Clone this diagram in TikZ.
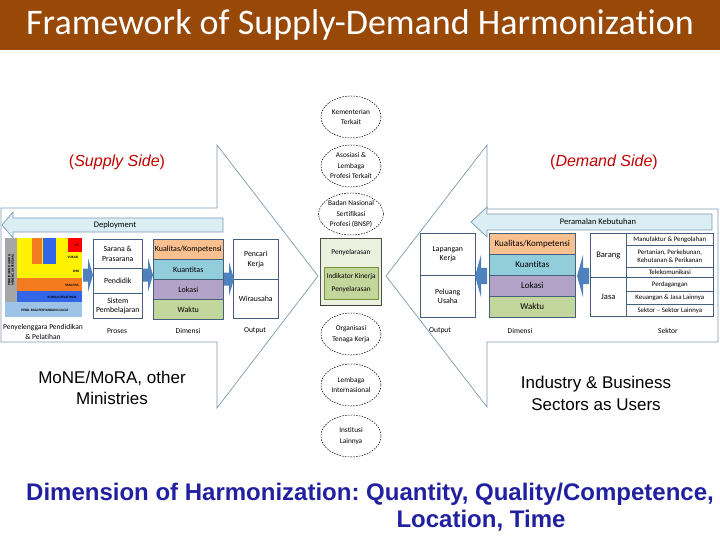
\documentclass[tikz,border=0pt]{standalone}
\usepackage{fontspec}
\setmainfont{Carlito}[Ligatures={NoCommon,NoRare}]
\newfontfamily\arialfont{Liberation Sans}
\usetikzlibrary{shapes.geometric}
\frenchspacing

\definecolor{titlebrown}{HTML}{984807}
\definecolor{frameline}{HTML}{7F98B2}
\definecolor{cellline}{HTML}{44607F}
\definecolor{barblue}{HTML}{DAEEF3}
\definecolor{kualitas}{HTML}{FAC090}
\definecolor{kuantitas}{HTML}{92CDDC}
\definecolor{lokasi}{HTML}{B3A2C7}
\definecolor{waktu}{HTML}{C3D69B}
\definecolor{blkblue}{HTML}{4F81BD}
\definecolor{sidered}{HTML}{C00000}
\definecolor{harmblue}{HTML}{2020A0}
\definecolor{penfill}{HTML}{EBF1DE}
\definecolor{penline}{HTML}{77933C}
\definecolor{chartgray}{HTML}{A6A6A6}
\definecolor{chartorange}{HTML}{F47B20}
\definecolor{chartblue}{HTML}{3366E6}
\definecolor{chartsky}{HTML}{9DC3E6}

\tikzset{
  cell/.style={draw=cellline, line width=0.6pt, anchor=north west, inner sep=0pt, align=center, font=\fontsize{7.8}{9.5}\selectfont},
  dimcell/.style={cell, font=\fontsize{8}{9}\selectfont},
  dimcellR/.style={cell, font=\fontsize{9}{10}\selectfont},
  sekcell/.style={cell, font=\fontsize{6.8}{8}\selectfont},
  collabel/.style={font=\fontsize{7.5}{10}\selectfont, align=center},
  stake/.style={ellipse, draw, dash pattern=on 1.6pt off 1.2pt, line width=0.5pt, minimum width=60pt, minimum height=42pt, inner sep=0pt, align=center, font=\fontsize{7.3}{10.5}\selectfont},
  bigframe/.style={draw=frameline, line width=0.7pt},
  flowbar/.style={draw=frameline, fill=barblue, line width=0.7pt},
  chartlbl/.style={font=\fontsize{3.4}{3.6}\selectfont\bfseries},
  pics/blkarrow/.style={code={
    \fill[blkblue] (-5,-6.5) -- (0,-6.5) -- (0,-17) -- (5,0) -- (0,17) -- (0,6.5) -- (-5,6.5) -- cycle;}}
}

\begin{document}
\begin{tikzpicture}[x=1pt,y=-1pt]
  \useasboundingbox (0,0) rectangle (720,540);
  % title bar
  \fill[titlebrown] (0,0) rectangle (720,50);
  \node[text=white, font=\fontsize{36}{40}\selectfont] (title) at (360,25) {Framework of Supply-Demand Harmonization};

  % the two big arrows
  \draw[bigframe] (1,208) -- (217,208) -- (217,145) -- (318,276) -- (217,408) -- (217,342) -- (1,342) -- cycle;
  \draw[bigframe] (718,209) -- (487,209) -- (487,145) -- (386,276) -- (487,407) -- (487,342) -- (718,342) -- cycle;

  \node[text=sidered, font=\arialfont\fontsize{16}{19}\selectfont] (supply) at (117,162) {(\textit{Supply Side})};
  \node[text=sidered, font=\arialfont\fontsize{16}{19}\selectfont] (demand) at (604,162) {(\textit{Demand Side})};

  % supply side
  \draw[flowbar] (2,225) -- (13,212) -- (13,218) -- (223,218) -- (223,232) -- (13,232) -- (13,238) -- cycle;
  \node[font=\fontsize{8.5}{10}\selectfont] (deploy) at (115,225) {Deployment};

  \node[anchor=north west, minimum width=77pt, minimum height=79pt, inner sep=0pt] (chart) at (5,238) {};
  \fill[chartgray] (5,238) rectangle (17,302);
  \fill[yellow] (17,238) rectangle (82,278);
  \fill[chartorange] (32,238) rectangle (42,264);
  \fill[chartblue] (43,238) rectangle (56,264);
  \fill[red] (68,238) rectangle (82,252);
  \fill[chartorange] (17,278) rectangle (82,291);
  \fill[chartblue] (17,291) rectangle (82,302);
  \fill[chartsky] (5,302) rectangle (82,317);
  \node[chartlbl, rotate=90, align=center] (chartside) at (11,270) {PENDIDIKAN DASAR \&\\MENENGAH PERTAMA};
  \node[chartlbl] (chartpt) at (77,245) {PT};
  \node[chartlbl] (chartvokasi) at (73,257) {VOKASI};
  \node[chartlbl] (chartsmk) at (76,271) {SMK};
  \node[chartlbl] (chartsma) at (72,285) {SMA/MA};
  \node[chartlbl] (chartkursus) at (62,297) {KURSUS/PELATIHAN};
  \node[chartlbl] (chartcacat) at (45,310) {PEND. BAGI PENYANDANG CACAT};

  \node[cell, minimum width=49pt, minimum height=29pt] (sarana) at (93,239) {Sarana \&\\Prasarana};
  \node[cell, minimum width=49pt, minimum height=25pt] (pendidik) at (93,268) {Pendidik};
  \node[cell, minimum width=49pt, minimum height=25pt] (sistem) at (93,293) {Sistem\\Pembelajaran};

  \node[dimcell, fill=kualitas, minimum width=70pt, minimum height=20pt] (kualitasL) at (153,239) {Kualitas/Kompetensi};
  \node[dimcell, fill=kuantitas, minimum width=70pt, minimum height=20pt] (kuantitasL) at (153,259) {Kuantitas};
  \node[dimcell, fill=lokasi, minimum width=70pt, minimum height=20pt] (lokasiL) at (153,279) {Lokasi};
  \node[dimcell, fill=waktu, minimum width=70pt, minimum height=20pt] (waktuL) at (153,299) {Waktu};

  \node[cell, minimum width=45pt, minimum height=40pt] (pencari) at (233,239) {Pencari\\Kerja};
  \node[cell, minimum width=45pt, minimum height=39pt] (wirausaha) at (233,279) {Wirausaha};

  \pic at (88,275) {blkarrow};
  \pic at (148,275) {blkarrow};
  \pic at (229,279) {blkarrow};

  \node[collabel] (lblpenyelenggara) at (43,332) {Penyelenggara Pendidikan\\\& Pelatihan};
  \node[collabel] (lblproses) at (117,331) {Proses};
  \node[collabel] (lbldimensiL) at (188,331) {Dimensi};
  \node[collabel] (lbloutputL) at (255,331) {Output};

  \node[font=\arialfont\fontsize{17}{21}\selectfont, align=center] (mone) at (112,388) {MoNE/MoRA, other\\Ministries};

  % demand side
  \draw[flowbar] (471,222) -- (487,207) -- (487,214) -- (712,214) -- (712,230) -- (487,230) -- (487,237) -- cycle;
  \node[font=\fontsize{8.5}{10}\selectfont] (peramalan) at (598,222) {Peramalan Kebutuhan};

  \node[cell, minimum width=55pt, minimum height=42pt] (lapangan) at (420,233) {Lapangan\\Kerja};
  \node[cell, minimum width=55pt, minimum height=42pt] (peluang) at (420,275) {Peluang\\Usaha};

  \node[dimcellR, fill=kualitas, minimum width=86pt, minimum height=21pt] (kualitasR) at (489,233) {Kualitas/Kompetensi};
  \node[dimcellR, fill=kuantitas, minimum width=86pt, minimum height=21pt] (kuantitasR) at (489,254) {Kuantitas};
  \node[dimcellR, fill=lokasi, minimum width=86pt, minimum height=21pt] (lokasiR) at (489,275) {Lokasi};
  \node[dimcellR, fill=waktu, minimum width=86pt, minimum height=21pt] (waktuR) at (489,296) {Waktu};

  \node[cell, font=\fontsize{8.5}{10}\selectfont, minimum width=36pt, minimum height=44pt] (barang) at (590,233) {Barang};
  \node[cell, font=\fontsize{8.5}{10}\selectfont, minimum width=36pt, minimum height=39pt] (jasa) at (590,277) {Jasa};
  \node[sekcell, minimum width=87pt, minimum height=12pt] (manufaktur) at (626,233) {Manufaktur \& Pengolahan};
  \node[sekcell, minimum width=87pt, minimum height=22pt] (pertanian) at (626,245) {Pertanian, Perkebunan,\\Kehutanan \& Perikanan};
  \node[sekcell, minimum width=87pt, minimum height=10pt] (telekom) at (626,267) {Telekomunikasi};
  \node[sekcell, minimum width=87pt, minimum height=14pt] (perdagangan) at (626,277) {Perdagangan};
  \node[sekcell, minimum width=87pt, minimum height=13pt] (keuangan) at (626,291) {Keuangan \& Jasa Lainnya};
  \node[sekcell, minimum width=87pt, minimum height=12pt] (sektorlain) at (626,304) {Sektor -- Sektor Lainnya};

  \pic[xscale=-1.2, yscale=1.24] at (481,276) {blkarrow};
  \pic[xscale=-1.2, yscale=1.24] at (583,276) {blkarrow};

  \node[collabel] (lbloutputR) at (440,331) {Output};
  \node[collabel] (lbldimensiR) at (520,331) {Dimensi};
  \node[collabel] (lblsektor) at (668,331) {Sektor};

  \node[font=\arialfont\fontsize{17}{22}\selectfont, align=center] (industry) at (596,393) {Industry \& Business\\Sectors as Users};

  % stakeholders in the middle
  \node[stake] (kementerian) at (351,117) {Kementerian\\Terkait};
  \node[stake] (asosiasi) at (351,166) {Asosiasi \&\\Lembaga\\Profesi Terkait};
  \node[stake] (bnsp) at (351,214) {Badan Nasional\\Sertifikasi\\Profesi (BNSP)};
  \node[draw=black!70, fill=penfill, anchor=north west, minimum width=61pt, minimum height=67pt, inner sep=0pt] (penyelarasan) at (320,238) {};
  \draw[line width=1.6pt, black!75] (penyelarasan.south west) -- (penyelarasan.south east);
  \node[font=\fontsize{7.3}{9}\selectfont] (penytitle) at (351,253) {Penyelarasan};
  \node[draw=penline, fill=waktu, anchor=north west, minimum width=54pt, minimum height=32pt, inner sep=0pt, align=center, font=\fontsize{7.3}{13}\selectfont] (indikator) at (324,267) {Indikator Kinerja\\Penyelarasan};
  \node[stake] (orgtk) at (351,334) {Organisasi\\Tenaga Kerja};
  \node[stake] (lembaga) at (351,385) {Lembaga\\Internasional};
  \node[stake] (institusi) at (351,436) {Institusi\\Lainnya};

  % bottom line
  \node[text=harmblue, font=\arialfont\bfseries\fontsize{24}{28}\selectfont] (harm1) at (370,494) {Dimension of Harmonization: Quantity, Quality/Competence,};
  \node[text=harmblue, font=\arialfont\bfseries\fontsize{24}{28}\selectfont] (harm2) at (481,521) {Location, Time};
\end{tikzpicture}
\end{document}
